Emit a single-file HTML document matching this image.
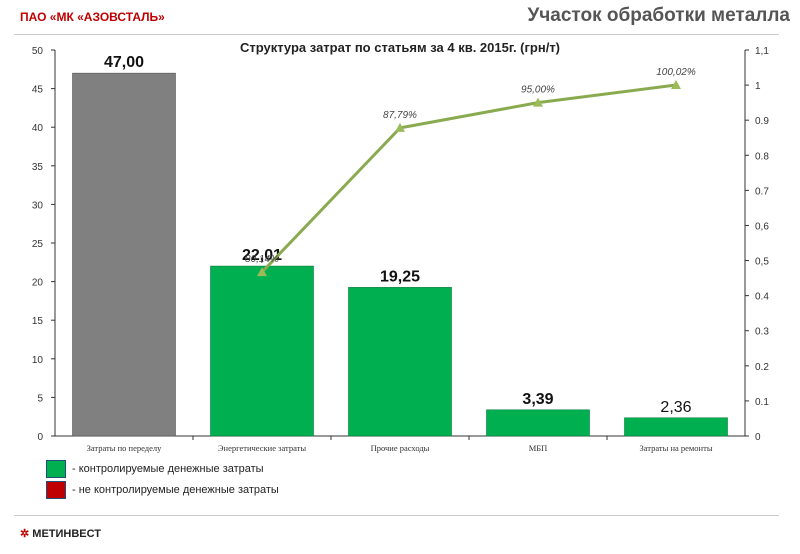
<!DOCTYPE html>
<html><head><meta charset="utf-8"><style>
body{margin:0;width:800px;height:554px;background:#fff;font-family:"Liberation Sans",sans-serif;overflow:hidden;position:relative}
.abs{position:absolute}
</style></head><body>
<div class="abs" style="left:20px;top:10px;color:#c00000;font-size:12px;font-weight:bold;">ПАО «МК «АЗОВСТАЛЬ»</div>
<div class="abs" style="right:10px;top:5px;color:#555;font-size:19px;font-weight:bold;">Участок обработки металла</div>
<div class="abs" style="left:14px;top:34px;width:765px;height:1px;background:#ccc"></div>
<div class="abs" style="left:14px;top:515px;width:765px;height:1px;background:#ccc"></div>
<div class="abs" style="left:20px;top:527px;font-size:11px;font-weight:bold;color:#222;"><span style="color:#c00000">✲</span> МЕТИНВЕСТ</div>
<svg class="abs" style="left:0;top:0" width="800" height="554" id="chart"></svg>
<div class="abs" style="left:46px;top:460px;font-size:11px;color:#222;display:flex;align-items:center"><span style="display:inline-block;width:18px;height:16px;background:#00b050;border:1px solid #1f4e79;margin-right:6px"></span>- контролируемые денежные затраты</div>
<div class="abs" style="left:46px;top:481px;font-size:11px;color:#222;display:flex;align-items:center"><span style="display:inline-block;width:18px;height:16px;background:#c00000;border:1px solid #1f4e79;margin-right:6px"></span>- не контролируемые денежные затраты</div>
<script>
const categories=["Затраты по переделу","Энергетические затраты","Прочие расходы","МБП","Затраты на ремонты"];
const barValues=[47.00,22.01,19.25,3.39,2.36];
const barLabels=["47,00","22,01","19,25","3,39","2,36"];
const lineValues=[0.467,0.8779,0.95,1.0002];
const lineLabels=["80,14%","87,79%","95,00%","100,02%"];
const leftTicks=[0,5,10,15,20,25,30,35,40,45,50];
const rightTicks=[0,0.1,0.2,0.3,0.4,0.5,0.6,0.7,0.8,0.9,1,1.1];
const rightTickLabels=["0","0.1","0.2","0.3","0.4","0,5","0,6","0.7","0.8","0.9","1","1,1"];
const NS="http://www.w3.org/2000/svg",svg=document.getElementById('chart');
const x0=55,x1=745,yb=436,yt=50;
const yL=v=>yb-(v/50)*(yb-yt);
const yR=v=>yb-(v/1.1)*(yb-yt);
const cw=(x1-x0)/categories.length;
const xc=i=>x0+cw*(i+0.5);
function mk(t,a,txt){const e=document.createElementNS(NS,t);for(const k in a)e.setAttribute(k,a[k]);if(txt!=null)e.textContent=txt;svg.appendChild(e);return e;}
let e;
e=mk('text',{x:400,y:52,'text-anchor':'middle','font-size':13,'font-weight':'bold',fill:'#222'},'Структура затрат по статьям за 4 кв. 2015г. (грн/т)');

e=mk('line',{x1:x0,y1:yt,x2:x0,y2:yb,stroke:'#333'});

e=mk('line',{x1:x1,y1:yt,x2:x1,y2:yb,stroke:'#333'});

e=mk('line',{x1:x0,y1:yb,x2:x1,y2:yb,stroke:'#333'});

leftTicks.forEach(v=>{mk('line',{x1:x0-4,y1:yL(v),x2:x0,y2:yL(v),stroke:'#333'});
e=mk('text',{x:x0-12,y:yL(v)+4,'text-anchor':'end','font-size':10,fill:'#333'},String(v));
});
rightTicks.forEach((v,i)=>{mk('line',{x1:x1,y1:yR(v),x2:x1+4,y2:yR(v),stroke:'#333'});
e=mk('text',{x:x1+10,y:yR(v)+4,'font-size':10,fill:'#333'},rightTickLabels[i]);
});
for(let i=1;i<categories.length;i++)mk('line',{x1:x0+cw*i,y1:yb,x2:x0+cw*i,y2:yb+4,stroke:'#333'});
const bw=103;
barValues.forEach((v,i)=>{
e=mk('rect',{x:xc(i)-bw/2,y:yL(v),width:bw,height:yb-yL(v),fill:i==0?'#808080':'#00b050',stroke:i==0?'#555':'#0a7a3a','stroke-width':0.6});

e=mk('text',{x:xc(i),y:yL(v)-6,'text-anchor':'middle','font-size':16,'font-weight':i==4?'normal':'bold',fill:'#111'},barLabels[i]);

e=mk('text',{x:xc(i),y:yb+15,'text-anchor':'middle','font-size':8.5,fill:'#333','font-family':'Liberation Serif'},categories[i]);
});
const pts=lineValues.map((v,i)=>[xc(i+1),yR(v)]);
e=mk('polyline',{points:pts.map(p=>p.join(',')).join(' '),fill:'none',stroke:'#8aaa50','stroke-width':3});

pts.forEach((p,i)=>{
e=mk('polygon',{points:`${p[0]-5},${p[1]+4} ${p[0]+5},${p[1]+4} ${p[0]},${p[1]-5}`,fill:'#9bbb59'});

e=mk('text',{x:p[0],y:p[1]-10,'text-anchor':'middle','font-size':10,'font-style':'italic',fill:'#444'},lineLabels[i]);
});
</script>
</body></html>
